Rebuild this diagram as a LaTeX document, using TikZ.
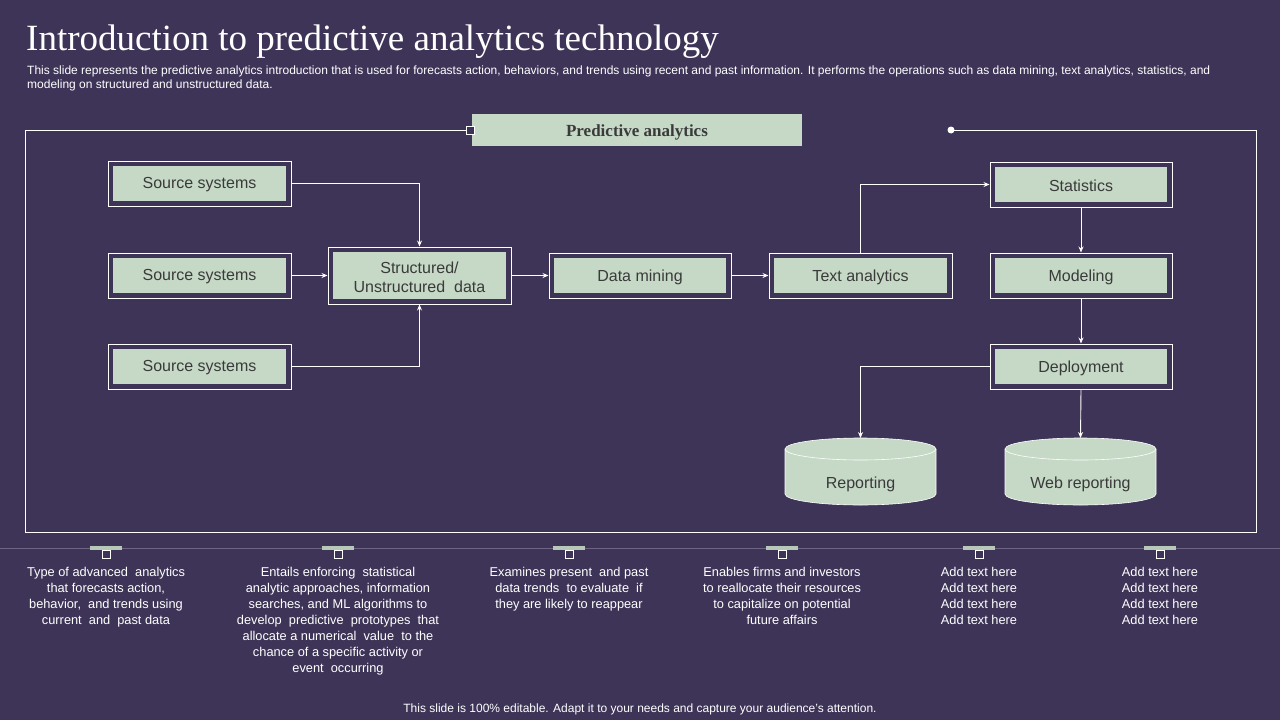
\documentclass[tikz,border=0pt]{standalone}
\usepackage{fontspec}
\setmainfont{Liberation Sans}
\newfontfamily\titlefont{Liberation Serif}
\usetikzlibrary{arrows.meta}
\definecolor{bg}{HTML}{3E3457}
\definecolor{boxg}{HTML}{C5D9C6}
\definecolor{txt}{HTML}{3A3A3A}
\definecolor{tl}{HTML}{6E6585}
\tikzset{
  outer/.style={draw=white,line width=1pt,minimum width=183pt,minimum height=45pt,inner sep=0pt},
  inner/.style={fill=boxg,minimum width=173pt,minimum height=35pt,inner sep=0pt},
  boxtext/.style={text=txt,font=\fontsize{16}{19}\selectfont,align=center,inner sep=0pt},
  arr/.style={draw=white,line width=0.9pt,-{Stealth[length=6pt,width=5pt]}},
  desc/.style={text=white,font=\fontsize{12.8}{16}\selectfont,align=center,anchor=north,inner sep=0pt},
  cyltext/.style={text=txt,font=\fontsize{16}{19}\selectfont,inner sep=0pt}
}
\newcommand\bx[5]{\node[outer,minimum width=#4pt,minimum height=#5pt] (#1) at (#2,#3) {};
 \node[inner,minimum width=#4pt-10pt,minimum height=#5pt-10pt] (#1in) at (#1) {};
 \node[boxtext] (#1txt) at ([yshift=-1.5pt]#1) {\csname bxt#1\endcsname};}
\newcommand\cylbody[2]{% center x, name
 \fill[boxg,draw=white,line width=0.6pt] (#1-75.5,449) -- (#1-75.5,494) arc[start angle=180,end angle=0,x radius=75.5,y radius=11] -- (#1+75.5,449) arc[start angle=0,end angle=-180,x radius=75.5,y radius=11] -- cycle;
 \draw[white,line width=0.6pt] (#1-75.5,449) arc[start angle=180,end angle=0,x radius=75.5,y radius=11];
 \coordinate (#2top) at (#1,438);}
\begin{document}
\begin{tikzpicture}[x=1pt,y=-1pt]
\fill[bg] (0,0) rectangle (1280,720);
\useasboundingbox (0,0) rectangle (1280,720);
\node[anchor=west,text=white,font=\titlefont\fontsize{37}{42}\selectfont,inner sep=0pt] (title) at (26,42) {Introduction to predictive analytics technology};
\node[anchor=north west,text=white,font=\fontsize{12}{14}\selectfont,align=left,inner sep=0pt] (sub) at (27,66) {This slide represents the predictive analytics introduction that is used for forecasts action, behaviors, and trends using recent and past information. It performs the operations such as data mining, text analytics, statistics, and\\modeling on structured and unstructured data.};
% frame
\node[fill=boxg,minimum width=330pt,minimum height=32pt,inner sep=0pt] (pa) at (637,130) {};
\node[text=txt,font=\titlefont\bfseries\fontsize{17}{20}\selectfont,inner sep=0pt] (pat) at (637,132) {Predictive analytics};
\coordinate (fl) at (470,130);
\coordinate (fr) at (951,130);
\draw[white,line width=0.8pt] (fl) -| (25,532) -| (1256,130) -- (fr);
\node[draw=white,fill=bg,minimum size=8pt,inner sep=0pt,line width=0.8pt] (sq) at (fl) {};
\fill[white] (fr) circle (3.5pt);
% boxes
\def\bxtsa{Source systems}\def\bxtsb{Source systems}\def\bxtsc{Source systems}
\def\bxtst{Structured/\\Unstructured\ \ data}
\def\bxtdm{Data mining}\def\bxtta{Text analytics}
\def\bxtstat{Statistics}\def\bxtmod{Modeling}\def\bxtdep{Deployment}
\bx{sa}{199.5}{183.5}{183}{45}
\bx{sb}{199.5}{275.5}{183}{45}
\bx{sc}{199.5}{366.5}{183}{45}
\bx{st}{419.5}{275.5}{183}{57}
\bx{dm}{640}{275.5}{182}{45}
\bx{ta}{860.5}{275.5}{183}{45}
\bx{stat}{1081}{184.5}{182}{45}
\bx{mod}{1081}{275.5}{182}{45}
\bx{dep}{1081}{366.5}{182}{45}
\cylbody{860.5}{rep}
\cylbody{1080.5}{web}
\node[cyltext] (rep) at (860.5,484) {Reporting};
\node[cyltext] (web) at (1080.5,484) {Web reporting};
% arrows
\draw[arr] (sa.east) -| (st.north);
\draw[arr] (sc.east) -| (st.south);
\draw[arr] (sb) -- (st);
\draw[arr] (st) -- (dm);
\draw[arr] (dm) -- (ta);
\draw[arr] (ta.north) |- (stat.west);
\draw[arr] (stat) -- (mod);
\draw[arr] (mod) -- (dep);
\draw[arr] (dep.west) -| (reptop);
\draw[arr] (dep.south) -- (webtop);
% timeline
\draw[tl,line width=1pt] (0,548) -- (1280,548);
\foreach \n/\x in {m1/106,m2/338,m3/569,m4/782,m5/979,m6/1160}{
  \fill[boxg!80!gray] (\x-16,546) rectangle (\x+16,549.5);
  \node[draw=white,fill=bg,minimum size=8pt,inner sep=0pt,line width=0.8pt,anchor=north] (\n) at (\x,549.5) {};
}
\node[desc] (d1) at (106,567) {Type of advanced\ \ analytics\\that forecasts action,\\behavior,\ \ and trends using\\current\ \ and\ \ past data};
\node[desc] (d2) at (338,567) {Entails enforcing\ \ statistical\\analytic approaches, information\\searches, and ML algorithms to\\develop\ \ predictive\ \ prototypes\ \ that\\allocate a numerical\ \ value\ \ to the\\chance of a specific activity or\\event\ \ occurring};
\node[desc] (d3) at (569,567) {Examines present\ \ and past\\data trends\ \ to evaluate\ \ if\\they are likely to reappear};
\node[desc] (d4) at (782,567) {Enables firms and investors\\to reallocate their resources\\to capitalize on potential\\future affairs};
\node[desc] (d5) at (979,567) {Add text here\\Add text here\\Add text here\\Add text here};
\node[desc] (d6) at (1160,567) {Add text here\\Add text here\\Add text here\\Add text here};
\node[text=white,font=\fontsize{12}{14}\selectfont,inner sep=0pt] (foot) at (640,709) {This slide is 100\% editable. Adapt it to your needs and capture your audience's attention.};
\end{tikzpicture}
\end{document}
